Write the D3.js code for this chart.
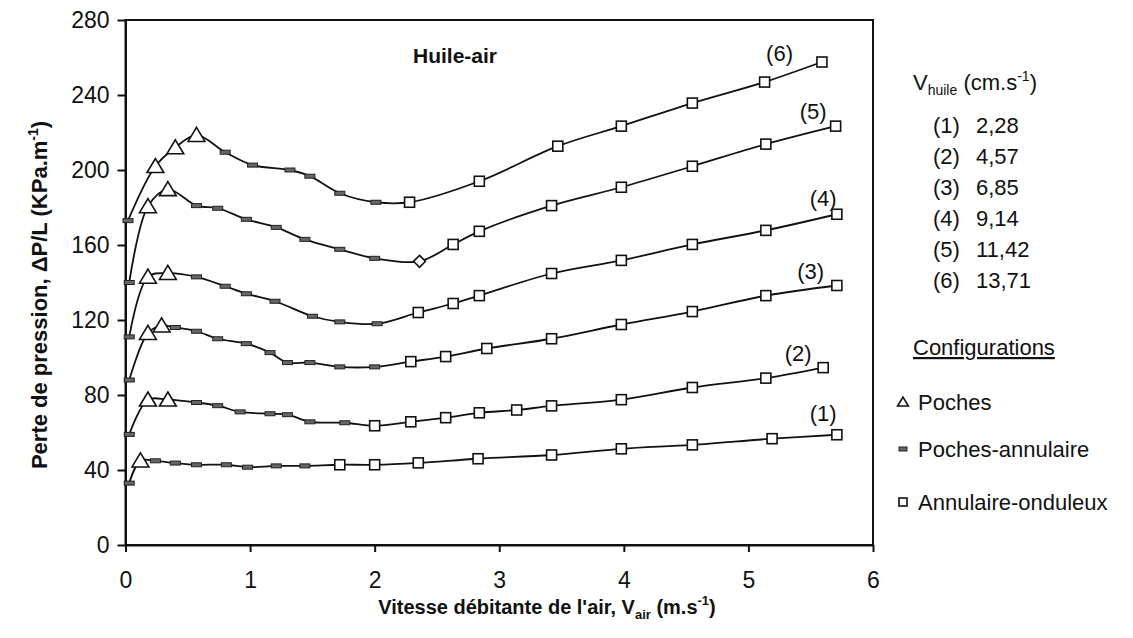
<!DOCTYPE html>
<html lang="fr">
<head>
<meta charset="utf-8">
<title>Huile-air</title>
<script src="https://cdn.jsdelivr.net/npm/d3@7"></script>
<style>
  body { margin: 0; background: #fff; }
  text { font-family: "Liberation Sans", Arial, sans-serif; fill: #111; }
</style>
</head>
<body>
<div id="chart"></div>
<script>
// vitesse de l'air (m/s), perte de pression (kPa/m), type de configuration
// T = poches, D = poches-annulaire, S = annulaire-onduleux, L = losange
var x1 = [0.03, 0.12, 0.24, 0.40, 0.57, 0.81, 0.98, 1.21, 1.44, 1.72, 2.00, 2.35, 2.83, 3.42, 3.98, 4.55, 5.19, 5.71];
var y1 = [33, 45, 44.9, 43.7, 42.8, 42.8, 41.5, 42.2, 42.2, 42.8, 42.8, 43.8, 46, 48, 51.3, 53.4, 56.7, 58.8];
var m1 = ["D","T","D","D","D","D","D","D","D","S","S","S","S","S","S","S","S","S"];

var x2 = [0.03, 0.18, 0.34, 0.57, 0.74, 0.92, 1.16, 1.30, 1.48, 1.76, 2.00, 2.29, 2.57, 2.84, 3.14, 3.42, 3.98, 4.55, 5.14, 5.60];
var y2 = [59, 77.5, 77.5, 76, 74.3, 71, 70, 69.5, 65.7, 65.2, 63.6, 65.7, 67.9, 70.5, 72, 74.2, 77.5, 84, 89, 94.6];
var m2 = ["D","T","T","D","D","D","D","D","D","D","S","S","S","S","S","S","S","S","S","S"];

var x3 = [0.03, 0.18, 0.29, 0.40, 0.57, 0.74, 0.97, 1.16, 1.30, 1.48, 1.72, 2.00, 2.29, 2.57, 2.90, 3.42, 3.98, 4.55, 5.14, 5.71];
var y3 = [88, 113, 117, 116, 114, 110, 107.4, 102.6, 97.3, 97.3, 95, 95, 97.8, 100.5, 104.8, 110, 117.6, 124.5, 133, 138.4];
var m3 = ["D","T","T","D","D","D","D","D","D","D","D","D","S","S","S","S","S","S","S","S"];

var x4 = [0.03, 0.18, 0.34, 0.57, 0.80, 0.97, 1.20, 1.50, 1.72, 2.02, 2.35, 2.63, 2.84, 3.42, 3.98, 4.55, 5.14, 5.71];
var y4 = [111, 143, 145, 143, 138, 134, 130, 122, 119, 118, 124, 128.8, 133, 144.8, 151.8, 160.3, 167.8, 176.4];
var m4 = ["D","T","T","D","D","D","D","D","D","D","S","S","S","S","S","S","S","S"];

var x5 = [0.03, 0.18, 0.34, 0.57, 0.74, 0.97, 1.21, 1.44, 1.72, 2.00, 2.36, 2.63, 2.84, 3.42, 3.98, 4.55, 5.14, 5.70];
var y5 = [140, 180.6, 189.7, 181, 179.6, 173.7, 169.4, 163, 157.7, 152.9, 151.3, 160.3, 167.3, 181, 190.8, 202, 213.8, 223.4];
var m5 = ["D","T","T","D","D","D","D","D","D","D","L","S","S","S","S","S","S","S"];

var x6 = [0.02, 0.24, 0.40, 0.57, 0.80, 1.02, 1.32, 1.48, 1.72, 2.01, 2.28, 2.84, 3.47, 3.98, 4.55, 5.13, 5.59];
var y6 = [173, 202, 212, 218.6, 209.5, 202.6, 200, 196.7, 187.6, 182.8, 182.8, 194, 212.7, 223.4, 235.7, 246.9, 257.6];
var m6 = ["D","T","T","T","D","D","D","D","D","D","S","S","S","S","S","S","S"];

var seriesNames = ["(1)", "(2)", "(3)", "(4)", "(5)", "(6)"];
var huileValues = ["2,28", "4,57", "6,85", "9,14", "11,42", "13,71"];
var labelX = [5.6, 5.4, 5.5, 5.6, 5.52, 5.25];
var labelY = [66, 98, 142, 181, 227, 258];
var xTicks = [0, 1, 2, 3, 4, 5, 6];
var yTicks = [0, 40, 80, 120, 160, 200, 240, 280];
var configNames = ["Poches", "Poches-annulaire", "Annulaire-onduleux"];
var configCodes = ["T", "D", "S"];

var W = 1133, H = 638;
var mLeft = 125.5, mRight = 873, mTop = 20, mBottom = 545;

var svg = d3.select("#chart").append("svg")
    .attr("width", W).attr("height", H);

var x = d3.scaleLinear().domain([0, 6]).range([mLeft, mRight]);
var y = d3.scaleLinear().domain([0, 280]).range([mBottom, mTop]);

// cadre
svg.append("rect")
    .attr("x", mLeft).attr("y", mTop)
    .attr("width", mRight - mLeft).attr("height", mBottom - mTop)
    .attr("fill", "none").attr("stroke", "#111").attr("stroke-width", 2);

// axes
var gy = svg.append("g").attr("transform", "translate(" + mLeft + ",0)")
    .call(d3.axisLeft(y).tickValues(yTicks).tickSize(8).tickSizeOuter(0).tickPadding(8));
var gx = svg.append("g").attr("transform", "translate(0," + mBottom + ")")
    .call(d3.axisBottom(x).tickValues(xTicks).tickFormat(d3.format("d"))
        .tickSize(7).tickSizeOuter(0).tickPadding(20));
[gx, gy].forEach(function (g) {
    g.select(".domain").attr("stroke", "#111").attr("stroke-width", 2);
    g.selectAll(".tick line").attr("stroke", "#111").attr("stroke-width", 2);
    g.selectAll(".tick text").attr("font-size", 23).attr("fill", "#111")
        .style("font-family", "'Liberation Sans', Arial, sans-serif");
});

// courbes
var all = [[x1, y1, m1], [x2, y2, m2], [x3, y3, m3], [x4, y4, m4], [x5, y5, m5], [x6, y6, m6]];
var line = d3.line()
    .x(function (d) { return x(d.v); })
    .y(function (d) { return y(d.p); })
    .curve(d3.curveCatmullRom.alpha(0.5));

function marker(g, code, cx, cy, s) {
    if (code === "T") {
        g.append("path")
            .attr("d", "M" + cx + "," + (cy - s * 0.55) + "L" + (cx + s * 0.6) + "," + (cy + s * 0.45) +
                "L" + (cx - s * 0.6) + "," + (cy + s * 0.45) + "Z")
            .attr("fill", "#fff").attr("stroke", "#111").attr("stroke-width", 1.6);
    } else if (code === "S") {
        g.append("rect")
            .attr("x", cx - s / 2).attr("y", cy - s / 2).attr("width", s).attr("height", s)
            .attr("fill", "#fff").attr("stroke", "#111").attr("stroke-width", 1.6);
    } else if (code === "L") {
        g.append("path")
            .attr("d", "M" + cx + "," + (cy - s * 0.6) + "L" + (cx + s * 0.6) + "," + cy +
                "L" + cx + "," + (cy + s * 0.6) + "L" + (cx - s * 0.6) + "," + cy + "Z")
            .attr("fill", "#fff").attr("stroke", "#111").attr("stroke-width", 1.6);
    } else {
        g.append("rect")
            .attr("x", cx - s * 0.5).attr("y", cy - 2).attr("width", s).attr("height", 4)
            .attr("fill", "#666").attr("stroke", "#222").attr("stroke-width", 1);
    }
}

all.forEach(function (s, i) {
    var pts = s[0].map(function (v, j) { return { v: v, p: s[1][j], m: s[2][j] }; });
    svg.append("path").datum(pts)
        .attr("d", line)
        .attr("fill", "none").attr("stroke", "#111").attr("stroke-width", 1.8);
    var g = svg.append("g");
    pts.forEach(function (d) {
        marker(g, d.m, x(d.v), y(d.p), d.m === "T" ? 14 : 10);
    });
    svg.append("text")
        .attr("x", x(labelX[i])).attr("y", y(labelY[i]))
        .attr("text-anchor", "middle").attr("font-size", 22)
        .text(seriesNames[i]);
});

// titre
svg.append("text").attr("x", 413).attr("y", 63)
    .attr("font-size", 21).attr("font-weight", "bold").text("Huile-air");

// titres des axes
var xt = svg.append("text").attr("x", 547).attr("y", 614)
    .attr("text-anchor", "middle").attr("font-size", 20).attr("font-weight", "bold");
xt.append("tspan").text("Vitesse débitante de l'air, V");
xt.append("tspan").attr("font-size", 13).attr("dy", 5).text("air");
xt.append("tspan").attr("dy", -5).text(" (m.s");
xt.append("tspan").attr("font-size", 13).attr("dy", -9).text("-1");
xt.append("tspan").attr("dy", 9).text(")");

var yt = svg.append("text")
    .attr("transform", "translate(47," + 295 + ") rotate(-90)")
    .attr("text-anchor", "middle").attr("font-size", 22).attr("font-weight", "bold");
yt.append("tspan").text("Perte de pression, ΔP/L (KPa.m");
yt.append("tspan").attr("font-size", 14).attr("dy", -9).text("-1");
yt.append("tspan").attr("dy", 9).text(")");

// légende
var lt = svg.append("text").attr("x", 913).attr("y", 90).attr("font-size", 22);
lt.append("tspan").text("V");
lt.append("tspan").attr("font-size", 14).attr("dy", 5).text("huile");
lt.append("tspan").attr("dy", -5).text(" (cm.s");
lt.append("tspan").attr("font-size", 14).attr("dy", -9).text("-1");
lt.append("tspan").attr("dy", 9).text(")");

huileValues.forEach(function (v, i) {
    svg.append("text").attr("x", 933).attr("y", 133 + i * 31).attr("font-size", 22).text(seriesNames[i]);
    svg.append("text").attr("x", 976).attr("y", 133 + i * 31).attr("font-size", 22).text(v);
});

svg.append("text").attr("x", 913).attr("y", 355).attr("font-size", 22)
    .attr("text-decoration", "underline").text("Configurations");

var legY = [402, 449, 502];
configNames.forEach(function (n, i) {
    var g = svg.append("g");
    marker(g, configCodes[i], 903, legY[i], configCodes[i] === "T" ? 9 : 8);
    svg.append("text").attr("x", 918).attr("y", legY[i] + 8).attr("font-size", 22).text(n);
});
</script>
</body>
</html>
